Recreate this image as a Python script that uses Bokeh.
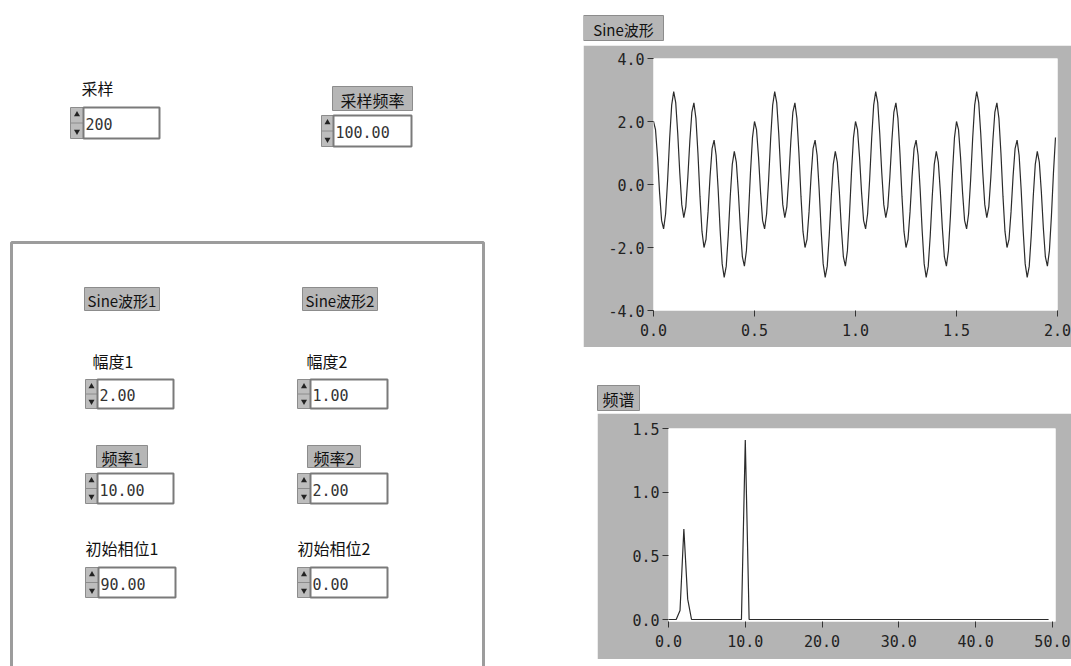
from bokeh.plotting import figure
from bokeh.layouts import row, column
from bokeh.models import Range1d, FixedTicker, PrintfTickFormatter, Spacer
from bokeh.core.properties import value
from bokeh.embed import file_html
from bokeh.resources import INLINE
import numpy as np

# ---------------- data ----------------
sample_count = 200          # 采样
sample_rate = 100.0         # 采样频率

control_labels = ["采样", "采样频率", "幅度1", "幅度2", "频率1", "频率2", "初始相位1", "初始相位2"]
control_values = ["200", "100.00", "2.00", "1.00", "10.00", "2.00", "90.00", "0.00"]
group_labels = ["Sine波形1", "Sine波形2"]
chart_titles = ["Sine波形", "频谱"]

sine_values = [
    2.00, 1.74, 0.87, -0.25, -1.14, -1.41, -0.93, 0.15, 1.46, 2.52,
    2.95, 2.60, 1.62, 0.38, -0.64, -1.05, -0.71, 0.23, 1.39, 2.30,
    2.59, 2.10, 0.99, -0.37, -1.49, -2.00, -1.74, -0.87, 0.25, 1.14,
    1.41, 0.93, -0.15, -1.46, -2.52, -2.95, -2.60, -1.62, -0.38, 0.64,
    1.05, 0.71, -0.23, -1.39, -2.30, -2.59, -2.10, -0.99, 0.37, 1.49,
    2.00, 1.74, 0.87, -0.25, -1.14, -1.41, -0.93, 0.15, 1.46, 2.52,
    2.95, 2.60, 1.62, 0.38, -0.64, -1.05, -0.71, 0.23, 1.39, 2.30,
    2.59, 2.10, 0.99, -0.37, -1.49, -2.00, -1.74, -0.87, 0.25, 1.14,
    1.41, 0.93, -0.15, -1.46, -2.52, -2.95, -2.60, -1.62, -0.38, 0.64,
    1.05, 0.71, -0.23, -1.39, -2.30, -2.59, -2.10, -0.99, 0.37, 1.49,
    2.00, 1.74, 0.87, -0.25, -1.14, -1.41, -0.93, 0.15, 1.46, 2.52,
    2.95, 2.60, 1.62, 0.38, -0.64, -1.05, -0.71, 0.23, 1.39, 2.30,
    2.59, 2.10, 0.99, -0.37, -1.49, -2.00, -1.74, -0.87, 0.25, 1.14,
    1.41, 0.93, -0.15, -1.46, -2.52, -2.95, -2.60, -1.62, -0.38, 0.64,
    1.05, 0.71, -0.23, -1.39, -2.30, -2.59, -2.10, -0.99, 0.37, 1.49,
    2.00, 1.74, 0.87, -0.25, -1.14, -1.41, -0.93, 0.15, 1.46, 2.52,
    2.95, 2.60, 1.62, 0.38, -0.64, -1.05, -0.71, 0.23, 1.39, 2.30,
    2.59, 2.10, 0.99, -0.37, -1.49, -2.00, -1.74, -0.87, 0.25, 1.14,
    1.41, 0.93, -0.15, -1.46, -2.52, -2.95, -2.60, -1.62, -0.38, 0.64,
    1.05, 0.71, -0.23, -1.39, -2.30, -2.59, -2.10, -0.99, 0.37, 1.49,
]

spectrum_values = [
    0.00, 0.00, 0.00, 0.07, 0.71, 0.16, 0.00, 0.00, 0.00, 0.00,
    0.00, 0.00, 0.00, 0.00, 0.00, 0.00, 0.00, 0.00, 0.00, 0.00,
    1.41, 0.00, 0.00, 0.00, 0.00, 0.00, 0.00, 0.00, 0.00, 0.00,
    0.00, 0.00, 0.00, 0.00, 0.00, 0.00, 0.00, 0.00, 0.00, 0.00,
    0.00, 0.00, 0.00, 0.00, 0.00, 0.00, 0.00, 0.00, 0.00, 0.00,
    0.00, 0.00, 0.00, 0.00, 0.00, 0.00, 0.00, 0.00, 0.00, 0.00,
    0.00, 0.00, 0.00, 0.00, 0.00, 0.00, 0.00, 0.00, 0.00, 0.00,
    0.00, 0.00, 0.00, 0.00, 0.00, 0.00, 0.00, 0.00, 0.00, 0.00,
    0.00, 0.00, 0.00, 0.00, 0.00, 0.00, 0.00, 0.00, 0.00, 0.00,
    0.00, 0.00, 0.00, 0.00, 0.00, 0.00, 0.00, 0.00, 0.00, 0.00,
]

wave_x_ticks = [0.0, 0.5, 1.0, 1.5, 2.0]
wave_y_ticks = [-4.0, -2.0, 0.0, 2.0, 4.0]
spec_x_ticks = [0.0, 10.0, 20.0, 30.0, 40.0, 50.0]
spec_y_ticks = [0.0, 0.5, 1.0, 1.5]

# sample times / frequency bins derived from the panel settings
t = np.arange(sample_count) / sample_rate
freqs = np.arange(len(spectrum_values)) * (sample_rate / sample_count)

# ---------------- layout / style (pixel coordinates of the panel) ----------------
PANEL = "#b4b4b4"
LABEL_BG = "#b6b6b6"
CJK = "Noto Sans CJK SC"
MONO = "DejaVu Sans Mono"

# label position: (x, y) for plain labels, or box (l, r, t, b) for boxed labels
label_layout = [
    ("plain", 81, 87), ("box", 332, 412, 86, 110),
    ("plain", 92, 360), ("plain", 306, 360),
    ("box", 96, 147, 445, 467), ("box", 307, 360, 445, 467),
    ("plain", 85, 547), ("plain", 297, 547),
]
# numeric control: (arrow_left, box_left, box_right, top, bottom)
control_layout = [
    (70, 83, 159, 107, 138), (321, 333, 411, 115, 146),
    (85, 97, 173, 379, 408), (297, 310, 387, 379, 408),
    (85, 97, 173, 473, 503), (297, 310, 387, 473, 503),
    (85, 98, 175, 567, 597), (297, 310, 387, 567, 597),
]
group_layout = [(84, 159, 287, 310), (302, 377, 287, 310)]


def blank(width, height, x0, x1, y0, y1):
    f = figure(width=width, height=height, x_range=Range1d(x0, x1), y_range=Range1d(y1, y0),
               x_axis_type=None, y_axis_type=None, output_backend="svg", toolbar_location=None,
               min_border=0, outline_line_color=None, background_fill_color="white",
               border_fill_color="white")
    f.grid.visible = False
    return f


def boxed_label(f, l, r, tp, bt, text, size="15px"):
    f.quad(left=[l], right=[r], top=[tp], bottom=[bt], fill_color=LABEL_BG,
           line_color="#8c8c8c", line_width=1)
    f.text(x=[(l + r) / 2], y=[(tp + bt) / 2 + 1], text=[text], text_align="center",
           text_baseline="middle", text_font=value(CJK), text_font_size=size, text_color="#111111")


# ---------------- left panel (controls) ----------------
left = blank(583, 666, 0, 583, 0, 666)

# framed cluster
left.line(x=[11, 11, 483, 483], y=[680, 242, 242, 680], line_color="#9c9c9c", line_width=3)

for lab, lay in zip(control_labels, label_layout):
    if lay[0] == "plain":
        left.text(x=[lay[1]], y=[lay[2]], text=[lab], text_align="left", text_baseline="middle",
                  text_font=value(CJK), text_font_size="16px", text_color="#111111")
    else:
        boxed_label(left, lay[1], lay[2], lay[3], lay[4], lab, size="16px")

for lab, (l, r, tp, bt) in zip(group_labels, group_layout):
    boxed_label(left, l, r, tp, bt, lab, size="15px")

for val, (xa, xb, xr, tp, bt) in zip(control_values, control_layout):
    # increment/decrement buttons
    left.quad(left=[xa], right=[xb], top=[tp], bottom=[bt], fill_color="#bdbdbd",
              line_color="#8c8c8c", line_width=1)
    left.line(x=[xa, xb], y=[(tp + bt) / 2, (tp + bt) / 2], line_color="#8c8c8c", line_width=1)
    left.scatter(x=[(xa + xb) / 2], y=[tp + 7], marker="triangle", size=6,
                 fill_color="#222222", line_color=None)
    left.scatter(x=[(xa + xb) / 2], y=[bt - 7], marker="inverted_triangle", size=6,
                 fill_color="#222222", line_color=None)
    # value field
    left.quad(left=[xb], right=[xr], top=[tp], bottom=[bt], fill_color="white",
              line_color="#7a7a7a", line_width=2)
    left.text(x=[xb + 2], y=[(tp + bt) / 2 + 1], text=[val], text_align="left",
              text_baseline="middle", text_font=value(MONO), text_font_size="15px",
              text_color="#333333")


# ---------------- chart helpers ----------------
def style_axes(f, xt, yt):
    f.grid.visible = False
    f.xaxis.ticker = FixedTicker(ticks=xt)
    f.yaxis.ticker = FixedTicker(ticks=yt)
    for ax in f.axis:
        ax.formatter = PrintfTickFormatter(format="%.1f")
        ax.axis_line_color = None
        ax.major_tick_line_color = "#333333"
        ax.major_tick_out = 6
        ax.major_tick_in = 0
        ax.minor_tick_line_color = None
        ax.major_label_text_font = MONO
        ax.major_label_text_font_size = "15px"
        ax.major_label_text_color = "#222222"
        ax.major_label_standoff = 3
    f.xaxis.major_label_standoff = 7


# title strip for the waveform chart
lab1 = blank(488, 45, 583, 1071, 0, 45)
boxed_label(lab1, 583, 663, 15, 40, chart_titles[0], size="15px")

wave = figure(width=488, height=302, x_range=Range1d(0, 2), y_range=Range1d(-4, 4),
              output_backend="svg", toolbar_location=None,
              min_border_left=70, min_border_right=14, min_border_top=13, min_border_bottom=37,
              border_fill_color=PANEL, background_fill_color="white", outline_line_color=None)
wave.line(t, sine_values, line_color="#2b2b2b", line_width=1.2)
style_axes(wave, wave_x_ticks, wave_y_ticks)

# title strip for the spectrum chart
lab2 = blank(488, 66, 583, 1071, 347, 413)
boxed_label(lab2, 597, 639, 385, 410, chart_titles[1], size="16px")

spec = figure(width=474, height=246, x_range=Range1d(0, 50.4), y_range=Range1d(-0.0157, 1.5),
              output_backend="svg", toolbar_location=None,
              min_border_left=71, min_border_right=16, min_border_top=15, min_border_bottom=38,
              border_fill_color=PANEL, background_fill_color="white", outline_line_color=None)
spec.line(freqs, spectrum_values, line_color="#2b2b2b", line_width=1.2)
style_axes(spec, spec_x_ticks, spec_y_ticks)

right = column(row(lab1), row(wave), row(lab2), row(Spacer(width=14, height=246), spec))
p = row(left, right)

open("out.html", "w").write(file_html(p, INLINE))
